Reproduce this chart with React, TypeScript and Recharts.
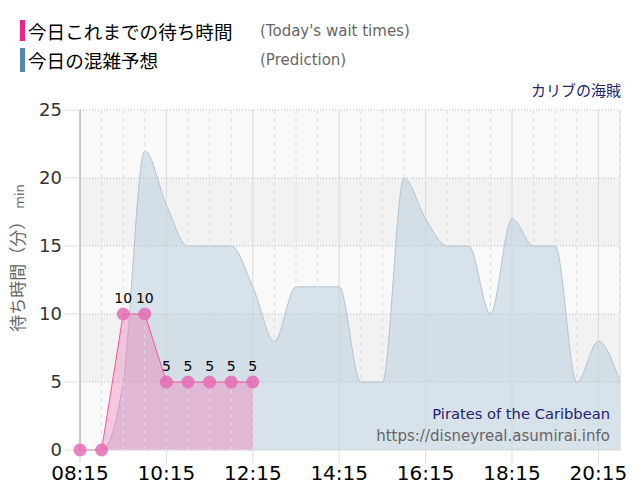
import React from 'react'
import { AreaChart, Area, XAxis, YAxis, CartesianGrid, ReferenceLine } from 'recharts'

// 30分ごとの時刻
const times = [
  '08:15', '08:45', '09:15', '09:45', '10:15', '10:45', '11:15', '11:45', '12:15',
  '12:45', '13:15', '13:45', '14:15', '14:45', '15:15', '15:45', '16:15', '16:45',
  '17:15', '17:45', '18:15', '18:45', '19:15', '19:45', '20:15', '20:45',
]

// 今日の混雑予想
const prediction = [0, 0, 5, 22, 18, 15, 15, 15, 12, 8, 12, 12, 12, 5, 5, 20, 17, 15, 15, 10, 17, 15, 15, 5, 8, 5]

// 今日これまでの待ち時間
const actual = [0, 0, 10, 10, 5, 5, 5, 5, 5]

const xTicks = ['08:15', '10:15', '12:15', '14:15', '16:15', '18:15', '20:15']
const yTicks = [0, 5, 10, 15, 20, 25]

const data = times.map((time, i) => ({
  time,
  prediction: prediction[i],
  actual: i < actual.length ? actual[i] : null,
}))

const latin = "'DejaVu Sans', 'Noto Sans CJK JP', sans-serif"
const cjk = "'Noto Sans CJK JP', sans-serif"

const renderValue = (props: any) => {
  const { x, y, value, index } = props
  if (value == null || value === 0) return null
  return (
    <text key={'lbl' + index} x={x} y={y - 11} textAnchor="middle" fontSize={14} fontFamily={latin} fill="#000">
      {value}
    </text>
  )
}

const renderYLabel = () => (
  <text x={24} y={258} transform="rotate(-90 24 258)" textAnchor="middle" fill="#666" fontFamily={cjk}>
    <tspan fontSize={17}>待ち時間（分）</tspan>
    <tspan fontSize={13} fontFamily={latin}> min</tspan>
  </text>
)

export default function App() {
  return (
    <div style={{ position: 'absolute', left: 0, top: 0, width: 640, height: 500, background: '#fff' }}>
      <div style={{ position: 'absolute', left: 20, top: 20, width: 5, height: 21, background: '#f0208c' }} />
      <div style={{ position: 'absolute', left: 28, top: 19, fontSize: 18.6, fontFamily: cjk, color: '#000', lineHeight: '24px' }}>
        今日これまでの待ち時間
      </div>
      <div style={{ position: 'absolute', left: 260, top: 21, fontSize: 15, fontFamily: latin, color: '#666', lineHeight: '20px' }}>
        (Today's wait times)
      </div>
      <div style={{ position: 'absolute', left: 20, top: 48, width: 5, height: 24, background: '#4f86b4' }} />
      <div style={{ position: 'absolute', left: 28, top: 48, fontSize: 18.6, fontFamily: cjk, color: '#000', lineHeight: '24px' }}>
        今日の混雑予想
      </div>
      <div style={{ position: 'absolute', left: 260, top: 50, fontSize: 15, fontFamily: latin, color: '#666', lineHeight: '20px' }}>
        (Prediction)
      </div>
      <div style={{ position: 'absolute', right: 19, top: 80, fontSize: 15, fontFamily: cjk, color: '#23236e', lineHeight: '20px' }}>
        カリブの海賊
      </div>

      <AreaChart width={640} height={500} data={data} margin={{ top: 110, right: 20, bottom: 0, left: 0 }}>
        <CartesianGrid
          vertical={false}
          stroke="#bbb"
          strokeDasharray="1 2"
          horizontalFill={['#f9f9f9', '#f2f2f2']}
        />
        <CartesianGrid horizontal={false} stroke="#ddd" />
        {times.map((t) => (
          <ReferenceLine key={t} x={t} stroke="#ddd" strokeDasharray="4 4" />
        ))}
        <XAxis
          dataKey="time"
          ticks={xTicks}
          interval={0}
          tickSize={13}
          tickMargin={3}
          tick={{ fontSize: 20, fill: '#000', fontFamily: latin }}
          tickLine={{ stroke: '#ddd' }}
          axisLine={{ stroke: '#ddd' }}
          height={50}
        />
        <YAxis
          domain={[0, 25]}
          ticks={yTicks}
          width={80}
          tickSize={15}
          tickMargin={3}
          tick={{ fontSize: 18, fill: '#333', fontFamily: latin }}
          tickLine={{ stroke: '#ddd' }}
          axisLine={{ stroke: '#aaa' }}
          label={{ content: renderYLabel }}
        />
        <Area
          type="monotone"
          dataKey="prediction"
          stroke="#b3c4d2"
          strokeWidth={1}
          fill="#a9c3d6"
          fillOpacity={0.42}
          dot={false}
          activeDot={false}
          isAnimationActive={false}
        />
        <Area
          type="linear"
          dataKey="actual"
          stroke="#f0589f"
          strokeWidth={1}
          fill="#f06ab0"
          fillOpacity={0.35}
          dot={{ r: 6.5, fill: '#e46cb5', fillOpacity: 0.85, stroke: 'none' }}
          activeDot={false}
          label={renderValue}
          isAnimationActive={false}
        />
      </AreaChart>

      <div style={{ position: 'absolute', right: 30, top: 404, fontSize: 14.7, fontFamily: latin, color: '#23236e', lineHeight: '20px' }}>
        Pirates of the Caribbean
      </div>
      <div style={{ position: 'absolute', right: 30, top: 426, fontSize: 15, fontFamily: latin, color: '#666', lineHeight: '20px' }}>
        https://disneyreal.asumirai.info
      </div>
    </div>
  )
}
